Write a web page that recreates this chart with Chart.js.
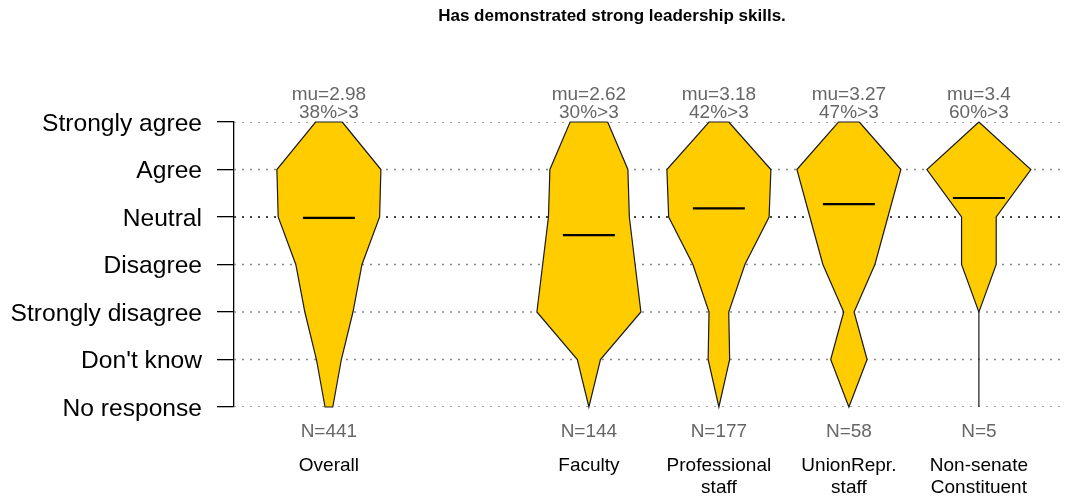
<!DOCTYPE html>
<html>
<head>
<meta charset="utf-8">
<script src="https://cdn.jsdelivr.net/npm/chart.js@4/dist/chart.umd.min.js"></script>
<style>
  body { margin: 0; background: #fff; }
  #caja { width: 1075px; height: 501px; }
</style>
</head>
<body>
<div id="caja"><canvas id="myChart" width="1075" height="501"></canvas></div>
<script>
// niveles de respuesta, de abajo hacia arriba
const niveles = ['No response', "Don't know", 'Strongly disagree', 'Disagree', 'Neutral', 'Agree', 'Strongly agree'];

const grupos = ['Overall', 'Faculty', ['Professional', 'staff'], ['UnionRepr.', 'staff'], ['Non-senate', 'Constituent']];
const posiciones = [1, 3, 4, 5, 6];
const totales = [441, 144, 177, 58, 5];
const medias = [2.98, 2.62, 3.18, 3.27, 3.4];
const porcentajes = [38, 30, 42, 47, 60];

// conteos estimados por nivel (No response ... Strongly agree)
const cOverall = [9, 29, 56, 77, 118, 121, 31];
const cFaculty = [0, 8, 36, 32, 28, 27, 13];
const cProfesional = [0, 12, 11, 29, 56, 58, 11];
const cUnion = [0, 7, 2, 10, 15, 20, 4];
const cNoSenado = [0, 0, 0, 1, 1, 3, 0];

const conteos = [cOverall, cFaculty, cProfesional, cUnion, cNoSenado];

const xMin = 0.27;
const xMax = 6.67;
const anchoMax = 0.4;   // medio ancho del nivel mas grande
const anchoMedia = 0.2; // medio ancho de la raya de la media

const fuente = "'Liberation Sans', Arial, Helvetica, sans-serif";

function violin(cuenta, x) {
    const max = Math.max(...cuenta);
    let puntos = [];
    for (let i = cuenta.length - 1; i >= 0; i--) {
        puntos.push({ x: x + cuenta[i] / max * anchoMax, y: i });
    }
    for (let i = 0; i < cuenta.length; i++) {
        puntos.push({ x: x - cuenta[i] / max * anchoMax, y: i });
    }
    puntos.push(puntos[0]);
    return puntos;
}

let datasets = [];

// lineas punteadas de cada nivel
niveles.forEach((n, i) => {
    datasets.push({
        data: [{ x: xMin, y: i }, { x: xMax, y: i }],
        showLine: true,
        borderColor: i == 4 ? '#444' : '#888',
        borderWidth: i == 4 ? 2 : 1.5,
        borderDash: [2, 6],
        pointRadius: 0,
        order: 3
    });
});

// violines
conteos.forEach((c, g) => {
    datasets.push({
        data: violin(c, posiciones[g]),
        showLine: true,
        fill: 'shape',
        backgroundColor: '#FFCC00',
        borderColor: '#1a1a1a',
        borderWidth: 1.2,
        pointRadius: 0,
        tension: 0,
        clip: false,
        order: 2
    });
});

// rayas de la media (escala 1..5 -> indice +1)
medias.forEach((m, g) => {
    datasets.push({
        data: [{ x: posiciones[g] - anchoMedia, y: m + 1 }, { x: posiciones[g] + anchoMedia, y: m + 1 }],
        showLine: true,
        borderColor: '#000',
        borderWidth: 2.2,
        pointRadius: 0,
        order: 1
    });
});

const textos = {
    id: 'textos',
    afterDraw(chart) {
        const ctx = chart.ctx;
        const xs = chart.scales.x;
        ctx.save();
        ctx.textAlign = 'center';
        ctx.textBaseline = 'middle';

        ctx.fillStyle = '#000';
        ctx.font = 'bold 17px ' + fuente;
        ctx.fillText('Has demonstrated strong leadership skills.', 612, 16);

        ctx.fillStyle = '#666';
        ctx.font = '19px ' + fuente;
        posiciones.forEach((p, g) => {
            const px = xs.getPixelForValue(p);
            ctx.fillText('mu=' + medias[g], px, 95);
            ctx.fillText(porcentajes[g] + '%>3', px, 113);
            ctx.fillText('N=' + totales[g], px, 432);
        });
        ctx.restore();
    }
};

const ctx = document.getElementById('myChart');

new Chart(ctx, {
    type: 'scatter',
    data: { datasets: datasets },
    options: {
        responsive: false,
        animation: false,
        layout: { padding: { top: 122, right: 0, left: 0, bottom: 0 } },
        plugins: {
            legend: { display: false },
            tooltip: { enabled: false },
            title: { display: false }
        },
        scales: {
            x: {
                type: 'linear',
                min: xMin,
                max: xMax,
                grid: { display: false, drawTicks: false },
                border: { display: false },
                afterBuildTicks: (scale) => { scale.ticks = posiciones.map(v => ({ value: v })); },
                afterFit: (scale) => { scale.height = 94; },
                ticks: {
                    autoSkip: false,
                    maxRotation: 0,
                    padding: 47,
                    color: '#000',
                    font: { family: fuente, size: 19, lineHeight: 1.2 },
                    callback: (v) => {
                        const i = posiciones.indexOf(v);
                        return i < 0 ? '' : grupos[i];
                    }
                }
            },
            y: {
                type: 'linear',
                min: 0,
                max: 6,
                afterFit: (scale) => { scale.width = 234; },
                grid: {
                    drawOnChartArea: false,
                    color: '#000',
                    tickLength: 17,
                    lineWidth: 1.3
                },
                border: { display: true, color: '#000', width: 1.3 },
                ticks: {
                    stepSize: 1,
                    padding: 15,
                    labelOffset: 2,
                    color: '#000',
                    font: { family: fuente, size: 24.6 },
                    callback: (v) => niveles[v]
                }
            }
        }
    },
    plugins: [textos]
});
</script>
</body>
</html>
